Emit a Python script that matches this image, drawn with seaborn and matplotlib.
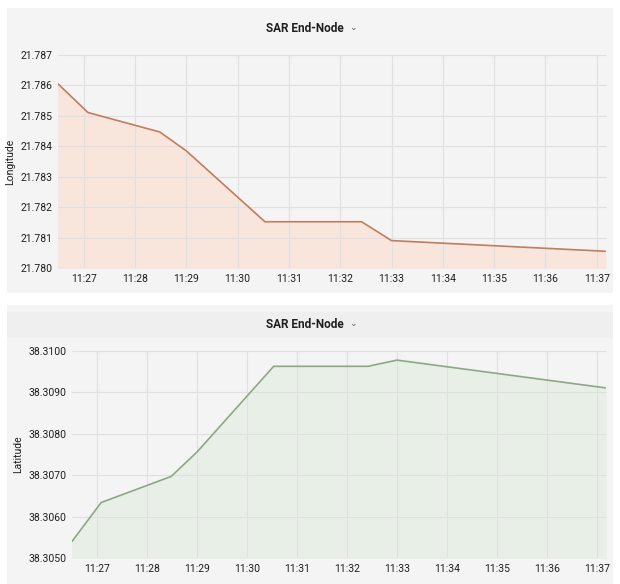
import pandas as pd
import numpy as np
import matplotlib
matplotlib.use("Agg")
import matplotlib.pyplot as plt
import matplotlib.dates as mdates
from matplotlib.patches import Rectangle
from matplotlib.ticker import FormatStrFormatter, MultipleLocator
import seaborn as sns

# sample times (vertices of the Grafana traces)
times = ["11:26:30", "11:27:05", "11:28:29", "11:29:00", "11:30:32",
         "11:32:25", "11:33:00", "11:37:10"]
longitude = [21.78605, 21.78511, 21.78447, 21.78385, 21.78152,
             21.78152, 21.78090, 21.78055]
latitude = [38.30540, 38.30634, 38.30697, 38.30756, 38.30963,
            38.30963, 38.30978, 38.30911]

df = pd.DataFrame({
    "time": pd.to_datetime("2021-06-01 " + pd.Series(times)),
    "Longitude": longitude,
    "Latitude": latitude,
})

sns.set_theme(style="white")
plt.rcParams["font.family"] = ["Roboto", "DejaVu Sans"]

fig = plt.figure(figsize=(6.2, 5.84), dpi=100)
fig.patch.set_facecolor("white")

W, H = 620, 584
panel_bg = "#f4f4f4"
# panel backgrounds (pixel coords from the top-left)
for (x0, y0, x1, y1) in [(7, 8, 613, 293), (7, 305, 613, 584)]:
    fig.patches.append(Rectangle((x0 / W, 1 - y1 / H), (x1 - x0) / W, (y1 - y0) / H,
                                 transform=fig.transFigure, facecolor=panel_bg,
                                 edgecolor="none", zorder=-10))
# slightly darker header band on the lower panel
fig.patches.append(Rectangle((7 / W, 1 - 338 / H), 606 / W, 26 / H,
                             transform=fig.transFigure, facecolor="#efefef",
                             edgecolor="none", zorder=-9))


def draw(ax, col, line_c, fill_c, ymin, ymax, step, fmt, title_y):
    sns.lineplot(data=df, x="time", y=col, ax=ax, color=line_c, linewidth=1.2)
    ax.fill_between(df["time"], df[col], ymin, color=fill_c, zorder=0)
    ax.set_facecolor(panel_bg)
    ax.set_xlim(df["time"].iloc[0], df["time"].iloc[-1] + pd.Timedelta(seconds=2))
    ax.set_ylim(ymin, ymax)
    ax.yaxis.set_major_locator(MultipleLocator(step))
    ax.yaxis.set_major_formatter(FormatStrFormatter(fmt))
    ax.xaxis.set_major_locator(mdates.MinuteLocator())
    ax.xaxis.set_major_formatter(mdates.DateFormatter("%H:%M"))
    ax.grid(True, color="#e0e0e0", linewidth=0.8)
    ax.set_axisbelow(True)
    for s in ax.spines.values():
        s.set_visible(False)
    ax.tick_params(axis="both", length=0, labelsize=7.5, colors="#1f1f1f", pad=4)
    ax.set_xlabel("")
    ax.set_ylabel(col, fontsize=7.5, color="#1f1f1f", labelpad=4)
    # panel title with the small dropdown chevron
    fig.text(344 / W, 1 - title_y / H, "SAR End-Node", ha="right", va="center",
             fontsize=8.5, fontweight="bold", color="#1f1f1f")
    fig.text(349 / W, 1 - (title_y - 1) / H, "\u2304", ha="left", va="center",
             fontsize=6.5, color="#666666", family=["DejaVu Sans"])


ax1 = fig.add_axes([58 / W, 1 - 268 / H, (607 - 58) / W, (268 - 55) / H])
draw(ax1, "Longitude", "#c27c60", "#f8e6dc", 21.780, 21.787, 0.001, "%.3f", 28)

ax2 = fig.add_axes([72 / W, 1 - 558 / H, (607 - 72) / W, (558 - 351) / H])
draw(ax2, "Latitude", "#8ca886", "#e8efe6", 38.3050, 38.3100, 0.001, "%.4f", 325)

fig.savefig("out.png", dpi=100)
